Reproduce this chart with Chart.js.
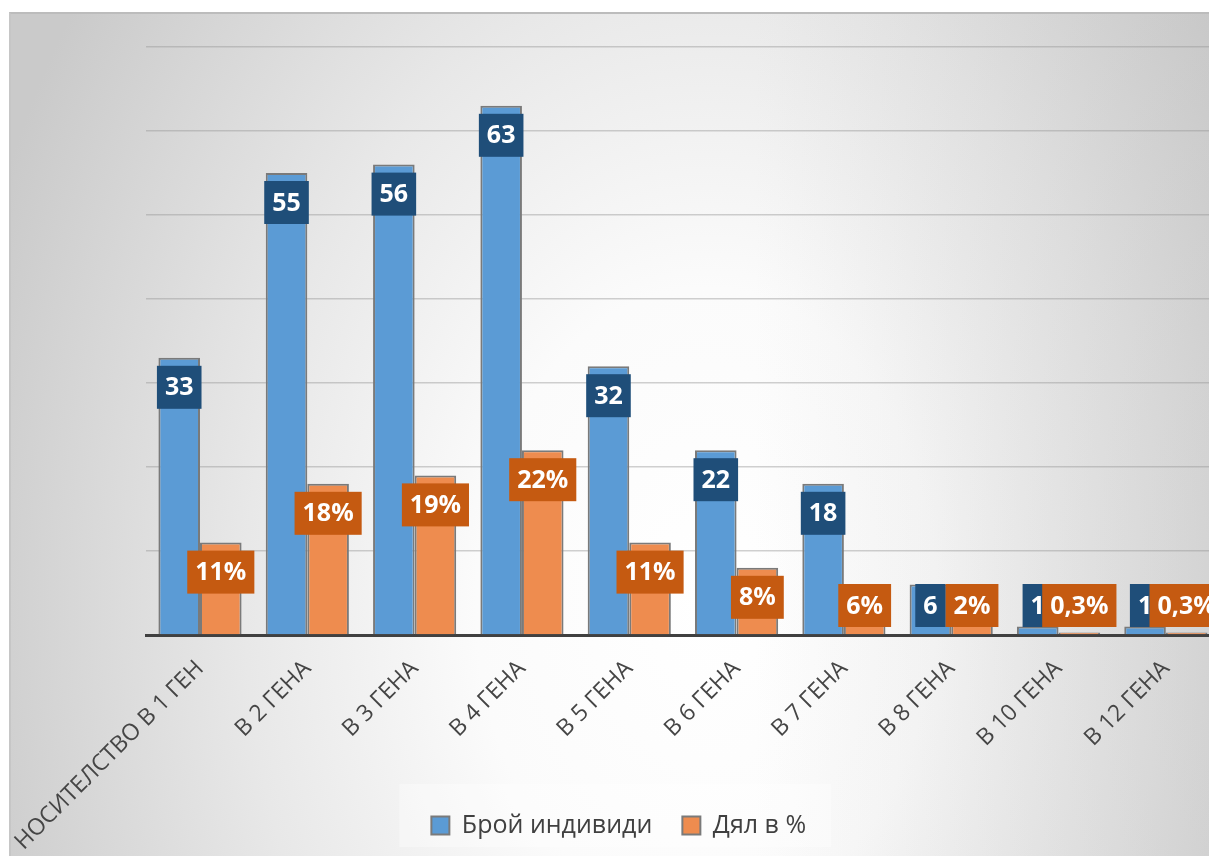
<!DOCTYPE html>
<html>
<head>
<meta charset="utf-8">
<script src="https://cdn.jsdelivr.net/npm/chart.js@4.4.1/dist/chart.umd.min.js"></script>
<style>
  html, body { margin:0; padding:0; width:1209px; height:856px; overflow:hidden; background:#ffffff; }
  #frame {
    position:absolute; left:9px; top:12px; width:1200px; height:844px;
    box-sizing:border-box; border-top:2px solid #bcbcbc; border-left:2px solid #c6c6c6;
    background:
      linear-gradient(90deg, rgba(170,170,170,0) 62%, rgba(170,170,170,0.28) 100%),
      radial-gradient(ellipse 64% 125% at 58% 70%, #ffffff 0%, #fbfbfb 30%, #e8e8e8 60%, #cacaca 100%);
  }
  #wrap { position:absolute; left:0; top:0; width:1230px; height:856px; }
</style>
</head>
<body>
<div id="frame"></div>
<div id="wrap"><canvas id="c" width="1230" height="856"></canvas></div>
<script>
const categories = ["НОСИТЕЛСТВО В 1 ГЕН", "В 2 ГЕНА", "В 3 ГЕНА", "В 4 ГЕНА", "В 5 ГЕНА", "В 6 ГЕНА", "В 7 ГЕНА", "В 8 ГЕНА", "В 10 ГЕНА", "В 12 ГЕНА"];
const countLabel = "Брой индивиди";
const countValues = [33, 55, 56, 63, 32, 22, 18, 6, 1, 1];
const shareLabel = "Дял в %";
const shareValues = [11, 18, 19, 22, 11, 8, 6, 2, 0.3, 0.3];
const yTicks = [0, 10, 20, 30, 40, 50, 60, 70];

const FONT = '"Open Sans", "Noto Sans", "DejaVu Sans", sans-serif';
const AXIS_Y = 635;
const BOTTOM_PAD = 8;
const LEFT_PAD = 18;
const PLOT_LEFT = 146.35;

const fmt = [
  v => String(v),
  v => String(v).replace('.', ',') + '%'
];
const labelBg = ['#1f4e79', '#c55a11'];

const boxLabels = {
  id: 'boxLabels',
  afterDatasetsDraw(chart) {
    const ctx = chart.ctx;
    const axisY = chart.scales.y.getPixelForValue(0);
    ctx.save();
    ctx.font = 'bold 25px ' + FONT;
    ctx.textAlign = 'center';
    ctx.textBaseline = 'middle';
    chart.data.datasets.forEach((ds, di) => {
      const meta = chart.getDatasetMeta(di);
      meta.data.forEach((bar, i) => {
        const txt = fmt[di](ds.data[i]);
        const w = ctx.measureText(txt).width + 16;
        const h = 43;
        let top = bar.y + 8;
        if (top + h > axisY - 8) top = axisY - 8 - h;
        ctx.fillStyle = labelBg[di];
        ctx.fillRect(bar.x - w / 2, top, w, h);
        ctx.fillStyle = '#ffffff';
        ctx.fillText(txt, bar.x, top + h / 2 + 1);
      });
    });
    ctx.restore();
  }
};

const layoutTweaks = {
  id: 'layoutTweaks',
  afterLayout(chart) {
    // let the rotated category labels run down past the legend row (as in the original)
    chart.scales.x.bottom = chart.height;
  },
  beforeDraw(chart) {
    const lg = chart.legend;
    if (!lg || !lg.legendHitBoxes || !lg.legendHitBoxes.length) return;
    const hb = lg.legendHitBoxes;
    const x0 = Math.min(...hb.map(b => b.left)) - 32;
    const x1 = Math.max(...hb.map(b => b.left + b.width)) + 25;
    const ctx = chart.ctx;
    ctx.save();
    ctx.fillStyle = 'rgba(255,255,255,0.35)';
    ctx.fillRect(x0, lg.top + 1, x1 - x0, lg.height - 2);
    ctx.restore();
  }
};

new Chart(document.getElementById('c'), {
  type: 'bar',
  data: {
    labels: categories,
    datasets: [
      { label: countLabel, data: countValues, backgroundColor: '#5b9bd5', borderColor: '#7a7a7a', borderWidth: 2,
        categoryPercentage: 0.775, barPercentage: 1.0 },
      { label: shareLabel, data: shareValues, backgroundColor: '#ee8c4f', borderColor: '#7a7a7a', borderWidth: 2,
        categoryPercentage: 0.775, barPercentage: 1.0 }
    ]
  },
  options: {
    responsive: false,
    animation: false,
    devicePixelRatio: 1,
    layout: { padding: { left: LEFT_PAD, right: 10.5, top: 47, bottom: BOTTOM_PAD } },
    plugins: {
      tooltip: { enabled: false },
      legend: {
        position: 'bottom',
        labels: {
          font: { family: FONT, size: 25 },
          color: '#404040',
          boxWidth: 18, boxHeight: 18,
          padding: 30
        }
      }
    },
    scales: {
      x: {
        z: 1,
        grid: { display: false },
        border: { display: true, color: '#404040', width: 3 },
        ticks: {
          minRotation: 45, maxRotation: 45, autoSkip: false,
          font: { family: FONT, size: 23 }, color: '#454545', padding: 12
        },
        afterFit(s) {
          const lh = s.chart.legend ? s.chart.legend.height : 0;
          s.height = s.chart.height - AXIS_Y - BOTTOM_PAD - lh;
          s.paddingLeft = 0;
          s.paddingRight = 0;
        }
      },
      y: {
        min: yTicks[0], max: yTicks[yTicks.length - 1],
        afterBuildTicks(s) { s.ticks = yTicks.map(v => ({ value: v })); },
        ticks: { display: false },
        border: { display: false },
        grid: { color: 'rgba(150,150,150,0.45)', lineWidth: 1.5, drawTicks: false },
        afterFit(s) { s.width = PLOT_LEFT - LEFT_PAD; }
      }
    }
  },
  plugins: [layoutTweaks, boxLabels]
});
</script>
</body>
</html>
